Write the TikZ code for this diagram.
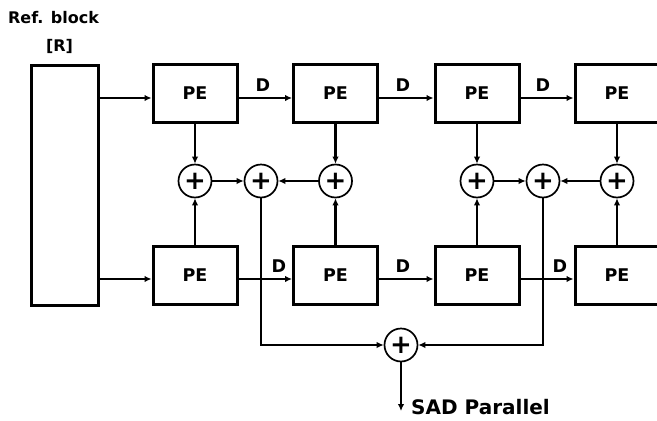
\documentclass[tikz,border=0pt]{standalone}
\usepackage{fontspec}
\setmainfont{DejaVu Sans}
\usetikzlibrary{arrows.meta,calc}
\begin{document}
\begin{tikzpicture}[x=1pt,y=-1pt,
 pe/.style={draw,line width=3pt,minimum width=84pt,minimum height=58pt,inner sep=0pt,font=\bfseries\fontsize{17.5}{17.5}\selectfont},
 sum/.style={draw,circle,line width=1.7pt,minimum size=33pt,inner sep=0pt,font=\bfseries\fontsize{26}{26}\selectfont},
 arr/.style={line width=2.3pt,-{Latex[length=7pt,width=6.5pt]}},
 lbl/.style={font=\bfseries\fontsize{17.5}{17.5}\selectfont,inner sep=0pt}]
\useasboundingbox (0,0) rectangle (657,421);
\clip (0,0) rectangle (657,421);
% title
\node[font=\bfseries\fontsize{16}{16}\selectfont,inner sep=0pt] (t1) at (53.5,18) {Ref. block};
\node[font=\bfseries\fontsize{16}{16}\selectfont,inner sep=0pt] (t2) at (59.5,46) {[R]};
% reference block
\node[draw,line width=3pt,minimum width=67pt,minimum height=240pt,anchor=north west,inner sep=0pt] (ref) at (30,64) {};
% PE rows
\node[pe] (p11) at (195,93) {PE};
\node[pe] (p12) at (335.5,93) {PE};
\node[pe] (p13) at (477,93) {PE};
\node[pe] (p14) at (617,93) {PE};
\node[pe] (p21) at (195,275) {PE};
\node[pe] (p22) at (335.5,275) {PE};
\node[pe] (p23) at (477,275) {PE};
\node[pe] (p24) at (617,275) {PE};
% inputs from ref block
\coordinate (a1) at ([yshift=-5pt]p11.west);
\coordinate (a2) at ([yshift=-4pt]p21.west);
\draw[arr] (ref.east |- a1) -- (a1);
\draw[arr] (ref.east |- a2) -- (a2);
% delay chains
\draw[arr] ([yshift=-5pt]p11.east) -- ([yshift=-5pt]p12.west);
\draw[arr] ([yshift=-5pt]p12.east) -- ([yshift=-5pt]p13.west);
\draw[arr] ([yshift=-5pt]p13.east) -- ([yshift=-5pt]p14.west);
\draw[arr] ([yshift=-4pt]p21.east) -- ([yshift=-4pt]p22.west);
\draw[arr] ([yshift=-4pt]p22.east) -- ([yshift=-4pt]p23.west);
\draw[arr] ([yshift=-4pt]p23.east) -- ([yshift=-4pt]p24.west);
\node[lbl] (d11) at (263,85) {D};
\node[lbl] (d12) at (403,85) {D};
\node[lbl] (d13) at (543,85) {D};
\node[lbl] (d21) at (279,266) {D};
\node[lbl] (d22) at (403,266) {D};
\node[lbl] (d23) at (560,266) {D};
% adders
\node[sum] (s1) at (195,181) {+};
\node[sum] (s2) at (261,181) {+};
\node[sum] (s3) at (335.5,181) {+};
\node[sum] (s4) at (477,181) {+};
\node[sum] (s5) at (543,181) {+};
\node[sum] (s6) at (617,181) {+};
\node[sum] (sb) at (401,345) {+};
\draw[arr] (p11) -- (s1);
\draw[arr] (p21) -- (s1);
\draw[arr] (p12) -- (s3);
\draw[arr] (p22) -- (s3);
\draw[arr] (p13) -- (s4);
\draw[arr] (p23) -- (s4);
\draw[arr] (p14) -- (s6);
\draw[arr] (p24) -- (s6);
\draw[arr] (s1) -- (s2);
\draw[arr] (s3) -- (s2);
\draw[arr] (s4) -- (s5);
\draw[arr] (s6) -- (s5);
\draw[arr] (s2.south) |- (sb.west);
\draw[arr] (s5.south) |- (sb.east);
\coordinate (out) at (401,411);
\draw[arr] (sb.south) -- (out);
\node[font=\bfseries\fontsize{20}{20}\selectfont,inner sep=0pt,anchor=west] (sad) at (411,407) {SAD Parallel};
\end{tikzpicture}
\end{document}
